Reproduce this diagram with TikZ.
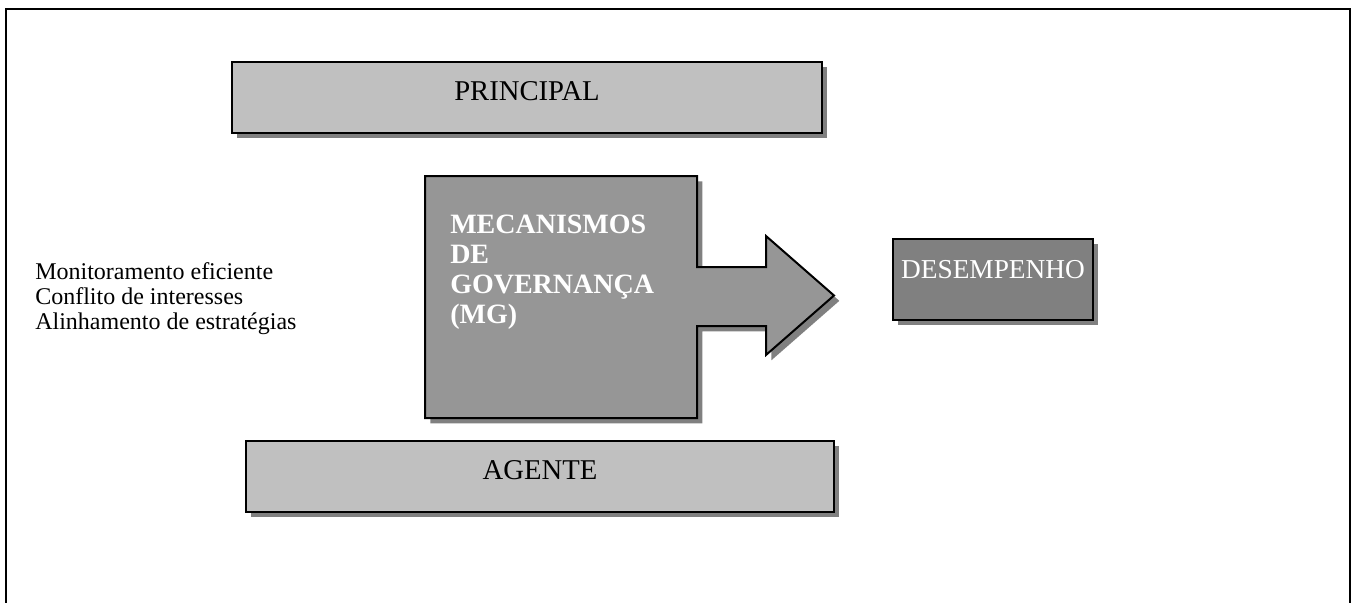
\documentclass[tikz,border=0pt]{standalone}
\usepackage{fontspec}
\setmainfont{Liberation Serif}
\usetikzlibrary{shadows}
\definecolor{lightbox}{HTML}{C0C0C0}
\definecolor{midbox}{HTML}{969696}
\definecolor{darkbox}{HTML}{808080}
\definecolor{shadowgray}{HTML}{808080}
\tikzset{
  myshadow/.style={drop shadow={shadow xshift=4pt, shadow yshift=-4pt, opacity=1, fill=shadowgray}},
  boxbase/.style={draw=black, line width=1.5pt, inner sep=0pt, myshadow},
  lightstyle/.style={boxbase, fill=lightbox},
  darkstyle/.style={boxbase, fill=darkbox},
  boxtext/.style={inner sep=0pt, font=\fontsize{21.5}{25}\selectfont},
}
\begin{document}
\begin{tikzpicture}[x=0.75pt, y=-0.75pt]
\useasboundingbox (0,0) rectangle (1357,603);
% outer frame
\draw[line width=1.5pt] (6,620) -- (6,9) -- (1350,9) -- (1350,620);
% PRINCIPAL
\node[lightstyle, minimum width=442.5pt, minimum height=53.25pt] (principal) at (527,97.5) {};
\node[boxtext] (principaltext) at (527,91) {PRINCIPAL};
% AGENTE
\node[lightstyle, minimum width=441pt, minimum height=53.25pt] (agente) at (540,476.5) {};
\node[boxtext] (agentetext) at (540,470) {AGENTE};
% DESEMPENHO
\node[darkstyle, minimum width=150pt, minimum height=60.75pt] (desempenho) at (993,279.5) {};
\node[boxtext, text=white, font=\fontsize{20.5}{24}\selectfont] (desempenhotext) at (993,270) {DESEMPENHO};
% MG arrow
\draw[line width=1.5pt, fill=midbox, myshadow, line join=miter]
  (425,176) -- (697,176) -- (697,267) -- (766,267) -- (766,236) -- (834,295.5)
  -- (766,355) -- (766,326) -- (697,326) -- (697,418) -- (425,418) -- cycle;
\node[inner sep=0pt, anchor=north west, align=left, text=white,
      font=\bfseries\fontsize{21}{22.5}\selectfont] (mg) at (450,215)
  {MECANISMOS\\DE\\GOVERNANÇA\\(MG)};
% left text
\node[inner sep=0pt, anchor=north west, align=left,
      font=\fontsize{18}{19}\selectfont] (lefttext) at (35,262)
  {Monitoramento eficiente\\Conflito de interesses\\Alinhamento de estratégias};
\end{tikzpicture}
\end{document}
